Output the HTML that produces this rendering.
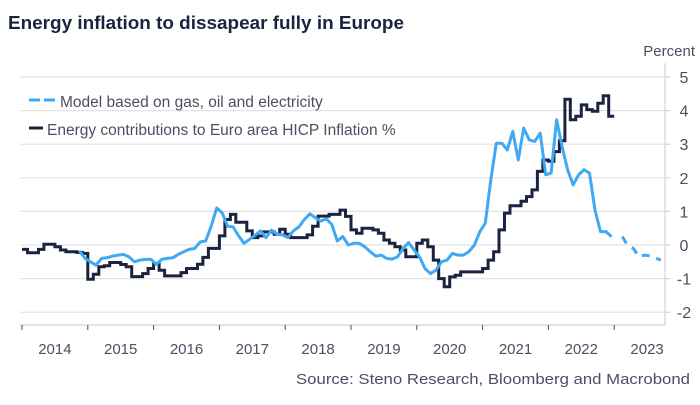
<!DOCTYPE html>
<html><head><meta charset="utf-8"><style>
body{margin:0;background:#fff;width:700px;height:400px;overflow:hidden;font-family:"Liberation Sans",sans-serif}
svg text{font-family:"Liberation Sans",sans-serif}
</style></head><body>
<svg id="c" width="700" height="400">
<text x="8" y="29" font-size="18.5" font-weight="bold" fill="#1c2340" textLength="396" lengthAdjust="spacingAndGlyphs">Energy inflation to dissapear fully in Europe</text>
<text x="695" y="56" font-size="15" fill="#4a4f63" text-anchor="end">Percent</text>
<text x="690" y="384" font-size="15" fill="#4a4f63" text-anchor="end" textLength="394" lengthAdjust="spacingAndGlyphs">Source: Steno Research, Bloomberg and Macrobond</text>
<g id="grid"></g><g id="axes"></g><g id="series"></g>
<g>
<line x1="29" y1="100" x2="40" y2="100" stroke="#3fa9f5" stroke-width="3"/>
<line x1="44" y1="100" x2="55" y2="100" stroke="#3fa9f5" stroke-width="3"/>
<text x="60" y="107" font-size="15.5" fill="#4a4f63">Model based on gas, oil and electricity</text>
<line x1="29" y1="128" x2="43" y2="128" stroke="#1c2340" stroke-width="3"/>
<text x="47" y="135" font-size="15.5" fill="#4a4f63">Energy contributions to Euro area HICP Inflation %</text>
</g>
</svg>
<script>
const years=[2014,2015,2016,2017,2018,2019,2020,2021,2022,2023];
const yTicks=[5,4,3,2,1,0,-1,-2];
// black: monthly from Jan 2014 (month index 0)
const energyValues=[-0.13,-0.23,-0.23,-0.13,0.02,0.02,-0.05,-0.15,-0.2,-0.2,-0.22,-0.25,
-1.02,-0.87,-0.65,-0.62,-0.52,-0.52,-0.58,-0.65,-0.94,-0.94,-0.85,-0.7,
-0.55,-0.75,-0.92,-0.92,-0.92,-0.82,-0.7,-0.7,-0.57,-0.37,-0.1,-0.1,
0.27,0.76,0.91,0.68,0.68,0.42,0.22,0.27,0.39,0.39,0.32,0.47,
0.32,0.22,0.22,0.22,0.3,0.56,0.86,0.86,0.91,0.91,1.04,0.85,
0.45,0.35,0.5,0.5,0.45,0.35,0.15,0.05,-0.05,-0.15,-0.35,-0.35,
0.05,0.15,-0.05,-0.45,-1.0,-1.24,-0.95,-0.9,-0.8,-0.8,-0.8,-0.8,
-0.7,-0.45,-0.2,0.45,0.95,1.17,1.17,1.3,1.44,1.64,2.19,2.53,
2.49,2.78,3.1,4.34,3.73,3.83,4.17,4.03,3.98,4.22,4.44,3.83];
// blue model: monthly starting month index 10
const modelStart=10;
const modelValues=[-0.18,-0.4,-0.5,-0.6,-0.4,-0.38,-0.33,-0.3,-0.28,-0.35,-0.5,-0.45,
-0.43,-0.43,-0.57,-0.43,-0.4,-0.38,-0.28,-0.2,-0.13,-0.1,0.09,0.12,
0.56,1.1,0.96,0.56,0.54,0.27,0.05,0.17,0.29,0.42,0.22,0.44,
0.32,0.3,0.22,0.42,0.54,0.76,0.93,0.81,0.71,0.78,0.61,0.12,
0.25,0.0,0.05,0.05,-0.05,-0.2,-0.33,-0.3,-0.4,-0.42,-0.35,-0.1,
0.07,-0.15,-0.35,-0.7,-0.85,-0.75,-0.5,-0.45,-0.25,-0.3,-0.3,-0.2,
0,0.4,0.65,1.94,3.03,3.03,2.83,3.38,2.53,3.48,3.13,3.08,
3.33,2.09,2.14,3.73,2.93,2.24,1.79,2.09,2.24,2.14,1.04,0.4,0.4,0.25];
const forecastStart=109;
const forecastValues=[0.25,-0.03,-0.1,-0.35,-0.3,-0.32,-0.38,-0.45];

const NS="http://www.w3.org/2000/svg";
const X0=22,PX_YEAR=65.8,Y0=245,PX_UNIT=33.6,LEFT=20,RIGHT=665,BOTTOM=325;
function xMonth(m){return X0+PX_YEAR*(m/12);}
function xYear(y){return X0+PX_YEAR*(y-2014);}
function yVal(v){return Y0-PX_UNIT*v;}
function mk(tag,attrs,parent){const e=document.createElementNS(NS,tag);for(const k in attrs)e.setAttribute(k,attrs[k]);parent.appendChild(e);return e;}
const grid=document.getElementById('grid'),axes=document.getElementById('axes'),ser=document.getElementById('series');
yTicks.forEach(v=>{
  const l=mk('line',{x1:LEFT,x2:RIGHT,y1:yVal(v),y2:yVal(v),stroke:'#e3e3e6','stroke-width':1.2},grid);
  
  
  mk('line',{x1:RIGHT,x2:RIGHT+5,y1:yVal(v),y2:yVal(v),stroke:'#c8c9d0'},axes);
  const t=mk('text',{x:684,y:yVal(v)+6,'font-size':16,fill:'#4a4f63','text-anchor':'middle'},axes);
  t.textContent=v;
  
  
});
const ya=mk('line',{x1:RIGHT,x2:RIGHT,y1:63,y2:BOTTOM,stroke:'#c8c9d0'},axes);


const xa=mk('line',{x1:LEFT,x2:RIGHT,y1:BOTTOM,y2:BOTTOM,stroke:'#c8c9d0'},axes);


years.forEach(y=>{
  mk('line',{x1:xYear(y),x2:xYear(y),y1:BOTTOM,y2:BOTTOM+5,stroke:'#4a4f63'},axes);
  const t=mk('text',{x:xYear(y)+PX_YEAR/2,y:354,'font-size':15,fill:'#4a4f63','text-anchor':'middle'},axes);
  t.textContent=y;
  
  
});
let d='';
energyValues.forEach((v,i)=>{const x=xMonth(i),y=yVal(v);d+=(i?` V${y.toFixed(1)} H${xMonth(i+1).toFixed(1)}`:`M${x.toFixed(1)},${y.toFixed(1)} H${xMonth(1).toFixed(1)}`);});
const pe=mk('path',{d:d,fill:'none',stroke:'#1c2340','stroke-width':3},ser);


const pts=modelValues.map((v,i)=>xMonth(modelStart+i+0.5).toFixed(1)+','+yVal(v).toFixed(1));
const pm=mk('polyline',{points:pts.join(' '),fill:'none',stroke:'#3fa9f5','stroke-width':3,'stroke-linejoin':'round'},ser);


const fpts=forecastValues.map((v,i)=>xMonth(forecastStart+i+0.5).toFixed(1)+','+yVal(v).toFixed(1));
const pf=mk('polyline',{points:fpts.join(' '),fill:'none',stroke:'#3fa9f5','stroke-width':3,'stroke-dasharray':'8,7'},ser);


</script>
</body></html>
